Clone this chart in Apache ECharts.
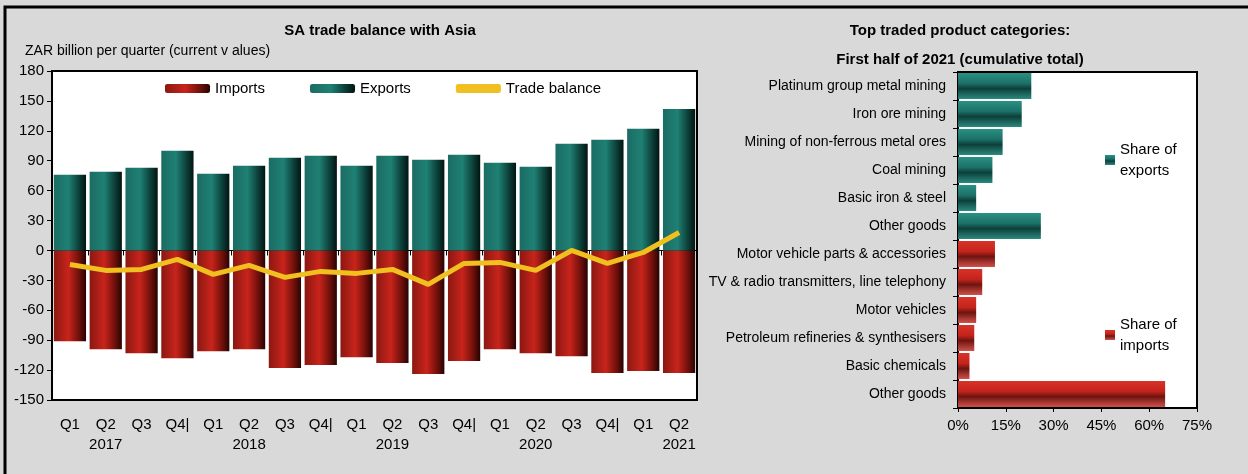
<!DOCTYPE html>
<html>
<head>
<meta charset="utf-8">
<script src="https://cdn.jsdelivr.net/npm/echarts@6/dist/echarts.min.js"></script>
<style>
  html, body { margin: 0; padding: 0; background: #d9d9d9; }
  #main { width: 1248px; height: 474px; }
</style>
</head>
<body>
<div id="main"></div>
<script>
// quarterly trade with Asia, ZAR billion
var quarters = ['Q1', 'Q2', 'Q3', 'Q4|', 'Q1', 'Q2', 'Q3', 'Q4|', 'Q1', 'Q2', 'Q3', 'Q4|', 'Q1', 'Q2', 'Q3', 'Q4|', 'Q1', 'Q2'];
var years = ['', '2017', '', '', '', '2018', '', '', '', '2019', '', '', '', '2020', '', '', '', '2021'];
var exportsData = [76, 79, 83, 100, 77, 85, 93, 95, 85, 95, 91, 96, 88, 84, 107, 111, 122, 142];
var importsData = [-91, -99, -103, -108, -101, -99, -118, -115, -107, -113, -124, -111, -99, -103, -106, -123, -121, -123];
var balanceData = [-14, -20, -19, -9, -24, -15, -27, -21, -23, -19, -34, -13, -12, -20, 0, -13, -2, 18];

// top traded products, share of first half 2021 (%)
var products = ['Platinum group metal mining', 'Iron ore mining', 'Mining of non-ferrous metal ores', 'Coal mining',
  'Basic iron & steel', 'Other goods', 'Motor vehicle parts & accessories', 'TV & radio transmitters, line telephony',
  'Motor vehicles', 'Petroleum refineries & synthesisers', 'Basic chemicals', 'Other goods'];
var exportShare = [23, 20, 14, 10.8, 5.7, 26, '-', '-', '-', '-', '-', '-'];
var importShare = ['-', '-', '-', '-', '-', '-', 11.6, 7.6, 5.7, 5.1, 3.6, 65];

var labels = quarters.map(function (q, i) { return years[i] ? q + '\n' + years[i] : q; });

var font = "'Liberation Sans', Arial, sans-serif";

var teal = new echarts.graphic.LinearGradient(0, 0, 1, 0, [
  { offset: 0, color: '#1b6c63' }, { offset: 0.45, color: '#1f8074' },
  { offset: 0.8, color: '#0b3b35' }, { offset: 1, color: '#021411' }]);
var red = new echarts.graphic.LinearGradient(0, 0, 1, 0, [
  { offset: 0, color: '#8a1812' }, { offset: 0.45, color: '#c8241b' },
  { offset: 0.8, color: '#6a0f0a' }, { offset: 1, color: '#260303' }]);
var tealH = new echarts.graphic.LinearGradient(0, 0, 0, 1, [
  { offset: 0, color: '#2a9085' }, { offset: 0.4, color: '#1c7067' },
  { offset: 0.6, color: '#0d3f39' }, { offset: 1, color: '#2a8a7f' }]);
var redH = new echarts.graphic.LinearGradient(0, 0, 0, 1, [
  { offset: 0, color: '#d8332a' }, { offset: 0.4, color: '#c4231b' },
  { offset: 0.6, color: '#6e1410' }, { offset: 1, color: '#d0504a' }]);

var chart = echarts.init(document.getElementById('main'));

chart.setOption({
  backgroundColor: '#d9d9d9',
  textStyle: { fontFamily: font, color: '#000' },
  animation: false,
  graphic: [{
    type: 'rect', shape: { x: 5, y: 7, width: 1270, height: 490 },
    style: { fill: 'none', stroke: '#000', lineWidth: 3 }
  }],
  title: [
    { text: 'SA trade balance with Asia', left: 375, top: 18, textAlign: 'center',
      textStyle: { fontFamily: font, fontSize: 15, fontWeight: 'bold', color: '#000' } },
    { text: 'ZAR billion per quarter (current v alues)', left: 20, top: 39,
      textStyle: { fontFamily: font, fontSize: 14, fontWeight: 'normal', color: '#000' } },
    { text: 'Top traded product categories:', left: 955, top: 18, textAlign: 'center',
      textStyle: { fontFamily: font, fontSize: 15, fontWeight: 'bold', color: '#000' } },
    { text: 'First half of 2021 (cumulative total)', left: 955, top: 47, textAlign: 'center',
      textStyle: { fontFamily: font, fontSize: 15, fontWeight: 'bold', color: '#000' } }
  ],
  legend: [
    { data: ['Imports', 'Exports', { name: 'Trade balance', icon: 'roundRect' }], left: 160, top: 76, itemGap: 45,
      itemWidth: 45, itemHeight: 9, textStyle: { fontFamily: font, fontSize: 15, color: '#000' } },
    { data: [{ name: 'Share of exports', icon: 'rect' }], left: 1100, top: 134, itemWidth: 10, itemHeight: 10,
      formatter: function (n) { return n.replace(' of ', ' of\n'); },
      textStyle: { fontFamily: font, fontSize: 15, color: '#000', lineHeight: 21 } },
    { data: [{ name: 'Share of imports', icon: 'rect' }], left: 1100, top: 309, itemWidth: 10, itemHeight: 10,
      formatter: function (n) { return n.replace(' of ', ' of\n'); },
      textStyle: { fontFamily: font, fontSize: 15, color: '#000', lineHeight: 21 } }
  ],
  grid: [
    { left: 52, right: 551, top: 71, bottom: 74, show: true, backgroundColor: '#fff',
      borderColor: '#000', borderWidth: 2 },
    { left: 958, right: 51, top: 72, bottom: 66, show: true, backgroundColor: '#fff',
      borderColor: '#000', borderWidth: 2 }
  ],
  xAxis: [
    { type: 'category', gridIndex: 0, data: labels, position: 'bottom',
      axisLine: { show: false, onZero: false }, axisTick: { show: false },
      axisLabel: { fontSize: 15, color: '#000', margin: 15, lineHeight: 20, interval: 0 } },
    { type: 'category', gridIndex: 0, data: labels, position: 'top',
      axisLine: { onZero: true, lineStyle: { color: '#000', width: 1 } },
      axisTick: { show: true, inside: true, length: 5, lineStyle: { color: '#000' } },
      axisLabel: { show: false } },
    { type: 'value', gridIndex: 1, min: 0, max: 75, interval: 15,
      axisLine: { show: false }, splitLine: { show: false },
      axisTick: { show: true, length: 4, lineStyle: { color: '#000' } },
      axisLabel: { formatter: '{value}%', fontSize: 15, color: '#000', margin: 10 } }
  ],
  yAxis: [
    { type: 'value', gridIndex: 0, min: -150, max: 180, interval: 30,
      axisLine: { show: true, lineStyle: { color: '#000', width: 2 } },
      axisTick: { show: true, length: 5, lineStyle: { color: '#000' } },
      splitLine: { show: false },
      axisLabel: { fontSize: 15, color: '#000', margin: 8 } },
    { type: 'category', gridIndex: 1, data: products, inverse: true,
      axisLine: { show: true, lineStyle: { color: '#000', width: 1 } },
      axisTick: { show: true, length: 5, lineStyle: { color: '#000' } },
      axisLabel: { fontSize: 14, color: '#000', margin: 12, interval: 0 } }
  ],
  series: [
    { name: 'Imports', type: 'bar', xAxisIndex: 0, yAxisIndex: 0, data: importsData,
      barGap: '-100%', barCategoryGap: '10%', itemStyle: { color: red } },
    { name: 'Exports', type: 'bar', xAxisIndex: 0, yAxisIndex: 0, data: exportsData,
      barGap: '-100%', barCategoryGap: '10%', itemStyle: { color: teal } },
    { name: 'Trade balance', type: 'line', xAxisIndex: 0, yAxisIndex: 0, data: balanceData,
      symbol: 'none', z: 5, lineStyle: { color: '#f0c020', width: 5 }, itemStyle: { color: '#f0c020' } },
    { name: 'Share of exports', type: 'bar', xAxisIndex: 2, yAxisIndex: 1, data: exportShare,
      stack: 'share', barCategoryGap: '7%', itemStyle: { color: tealH } },
    { name: 'Share of imports', type: 'bar', xAxisIndex: 2, yAxisIndex: 1, data: importShare,
      stack: 'share', barCategoryGap: '7%', itemStyle: { color: redH } }
  ]
});
</script>
</body>
</html>
